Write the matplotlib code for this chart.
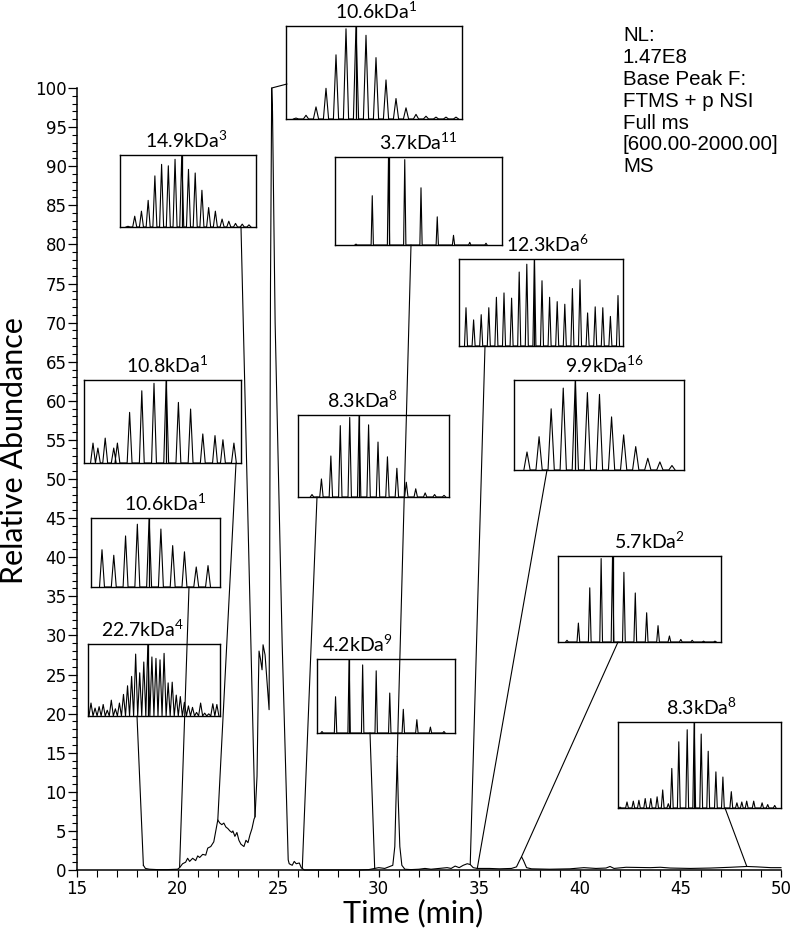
import matplotlib
matplotlib.use("Agg")
import matplotlib.pyplot as plt
from matplotlib.patches import ConnectionPatch
from matplotlib.ticker import MultipleLocator
import numpy as np

plt.rcParams['font.family'] = 'DejaVu Sans'
plt.rcParams['mathtext.fontset'] = 'custom'
plt.rcParams['mathtext.rm'] = 'Lato'
plt.rcParams['mathtext.default'] = 'rm'

# base peak chromatogram: time (min) vs relative abundance
times = [18.30, 18.40, 18.60, 19.00, 19.50, 20.00, 20.10, 20.25, 20.40, 20.50,
         20.60, 20.75, 20.90, 21.00, 21.10, 21.25, 21.40, 21.50, 21.65, 21.80,
         21.90, 22.00, 22.10, 22.20, 22.30, 22.40, 22.50, 22.60, 22.70, 22.75,
         22.85, 22.95, 23.05, 23.15, 23.30, 23.40, 23.50, 23.60, 23.70, 23.80,
         23.85, 23.95, 24.02, 24.05, 24.12, 24.20, 24.25, 24.35, 24.45, 24.55,
         24.58, 24.62, 24.68, 24.72, 24.85, 25.20, 25.50, 25.55, 25.70, 25.80,
         25.90, 26.05, 26.15, 26.30, 29.00, 29.50, 29.80, 30.00, 30.30, 30.50,
         30.70, 30.80, 30.85, 30.92, 30.97, 31.05, 31.15, 31.30, 31.60, 32.00,
         32.30, 32.60, 33.00, 33.40, 33.60, 33.80, 34.00, 34.20, 34.40, 34.55,
         34.70, 34.90, 35.50, 36.00, 36.60, 36.85, 37.00, 37.10, 37.20, 37.35,
         37.60, 38.50, 39.50, 40.20, 40.80, 41.30, 41.50, 41.70, 42.30, 43.50,
         44.00, 44.50, 45.50, 46.50, 47.50, 48.30, 48.80, 49.50, 50.00]
abund = [0.6, 0.2, 0.1, 0.05, 0.05, 0.1, 0.3, 0.8, 1.0, 1.5,
         1.1, 1.5, 1.2, 1.8, 1.6, 2.0, 1.9, 2.8, 3.0, 3.6,
         5.0, 6.4, 6.0, 5.8, 6.0, 5.5, 5.3, 5.0, 4.8, 5.0,
         4.3, 4.8, 3.8, 3.3, 3.0, 3.8, 3.5, 4.5, 5.3, 6.5,
         6.8, 12.0, 24.0, 28.0, 27.0, 25.6, 28.8, 27.5, 24.0, 20.5,
         40.0, 75.0, 100.0, 97.0, 70.0, 29.0, 1.3, 0.8, 0.6, 1.1,
         0.8, 0.9, 0.3, 0.0, 0.0, 0.05, 0.2, 0.3, 0.2, 0.4,
         0.6, 3.0, 8.0, 14.5, 9.0, 3.0, 0.6, 0.1, 0.05, 0.1,
         0.2, 0.1, 0.2, 0.3, 0.2, 0.5, 0.3, 0.6, 0.8, 0.7,
         0.3, 0.2, 0.2, 0.15, 0.2, 0.4, 1.2, 1.7, 1.2, 0.3,
         0.15, 0.1, 0.15, 0.3, 0.2, 0.25, 0.45, 0.2, 0.35, 0.3,
         0.35, 0.25, 0.2, 0.25, 0.35, 0.45, 0.4, 0.3, 0.3]

# deconvoluted protein masses shown in the spectrum insets
inset_labels = ["10.6kDa$^{1}$", "14.9kDa$^{3}$", "3.7kDa$^{11}$", "12.3kDa$^{6}$",
                "10.8kDa$^{1}$", "8.3kDa$^{8}$", "9.9kDa$^{16}$", "10.6kDa$^{1}$",
                "22.7kDa$^{4}$", "4.2kDa$^{9}$", "5.7kDa$^{2}$", "8.3kDa$^{8}$"]

# relative heights of the charge state peaks in each inset
h_a = [0.01, 0.04, 0.13, 0.33, 0.69, 0.97, 1.0, 0.9, 0.66, 0.42, 0.22, 0.12, 0.05, 0.03, 0.02, 0.02, 0.02]
h_b = [0.01, 0.15, 0.22, 0.37, 0.71, 0.87, 0.85, 0.94, 1.0, 0.8, 0.75, 0.51, 0.27, 0.22, 0.11, 0.08, 0.05, 0.04, 0.03]
h_c = [0.01, 0.56, 1.0, 0.97, 0.65, 0.32, 0.11, 0.03, 0.02]
h_d = [0.44, 0.3, 0.36, 0.44, 0.56, 0.61, 0.55, 0.85, 0.94, 1.0, 0.75, 0.56, 0.51, 0.48, 0.66, 0.76, 0.38, 0.45, 0.44, 0.34, 0.58]
h_e = [0.24, 0.18, 0.3, 0.18, 0.24, 0.61, 0.87, 0.96, 1.0, 0.73, 0.65, 0.35, 0.33, 0.28, 0.24]
h_f = [0.03, 0.22, 0.5, 0.87, 0.97, 1.0, 0.88, 0.67, 0.49, 0.35, 0.18, 0.1, 0.05, 0.03, 0.02]
h_g = [0.2, 0.37, 0.68, 0.91, 1.0, 0.86, 0.84, 0.59, 0.39, 0.26, 0.13, 0.09, 0.05]
h_h = [0.54, 0.46, 0.74, 0.91, 1.0, 0.84, 0.6, 0.51, 0.29, 0.31]
h_i = [0.18, 0.11, 0.13, 0.16, 0.08, 0.22, 0.1, 0.18, 0.3, 0.42, 0.55, 0.86, 0.6, 0.75, 1.0, 0.82,
       0.8, 0.78, 0.87, 0.46, 0.47, 0.29, 0.27, 0.19, 0.14, 0.12, 0.05, 0.18, 0.04, 0.03, 0.17, 0.16]
h_j = [0.02, 0.49, 1.0, 0.92, 0.84, 0.54, 0.32, 0.18, 0.08, 0.02]
h_k = [0.02, 0.22, 0.63, 0.97, 1.0, 0.81, 0.57, 0.34, 0.19, 0.07, 0.03, 0.02, 0.01, 0.01]
h_l = [0.01, 0.07, 0.08, 0.09, 0.11, 0.11, 0.13, 0.21, 0.05, 0.46, 0.77, 0.91, 1.0, 0.86, 0.66,
       0.42, 0.36, 0.19, 0.06, 0.07, 0.08, 0.08, 0.06, 0.04, 0.03]
inset_heights = [h_a, h_b, h_c, h_d, h_e, h_f, h_g, h_h, h_i, h_j, h_k, h_l]

# peak positions in units of the charge state spacing (None = evenly spaced)
pos_e = [0, 0.4, 1.0, 1.7, 2.0, 3.0, 4.0, 5.0, 6.0, 7.0, 8.0, 9.0, 10.0, 10.65, 11.55]
pos_l = [0, 1, 1.9, 2.7, 3.6, 4.4, 5.3, 6.1, 6.9, 7.4, 8.4, 9.6, 10.6, 11.6, 12.6,
         13.7, 14.7, 15.9, 16.7, 17.4, 18.1, 19.1, 20.3, 21.1, 22.1]
inset_positions = [None, None, None, None, pos_e, None, None, None, None, None, None, pos_l]

# index of the marked peak in each inset
marked_peak = [6, 8, 2, 9, 8, 5, 4, 4, 14, 2, 4, 12]

# chromatogram point each inset belongs to (time, abundance)
target_time = [24.68, 23.85, 30.92, 34.55, 22.0, 26.2, 34.9, 20.1, 18.3, 29.8, 37.1, 48.3]
target_abund = [100.0, 6.8, 14.5, 0.7, 6.4, 0.2, 0.2, 0.3, 0.6, 0.2, 1.7, 0.45]

info_lines = ["NL:", "1.47E8", "Base Peak F:", "FTMS + p NSI", "Full ms", "[600.00-2000.00]", "MS"]

# ---- layout (pixels of a 793x930 canvas) ----
W, H = 793.0, 930.0
# box (left, top, right, bottom), first peak x, peak spacing, half width, title x, anchor
layout = [
    ((286, 26, 462, 119), 296, 10.0, 0.26, 0.51, (287, 84)),
    ((120, 155, 256, 227), 128, 6.72, 0.3, 0.485, (241, 227)),
    ((335, 157, 502, 245), 356, 16.25, 0.07, 0.497, (411, 245)),
    ((459, 259, 623, 346), 466, 7.6, 0.2, 0.54, (485, 346)),
    ((84, 380, 241, 463), 93, 12.2, 0.2, 0.53, (236, 463)),
    ((298, 415, 449, 497), 312, 9.43, 0.18, 0.43, (317, 497)),
    ((514, 380, 684, 470), 527, 12.08, 0.26, 0.53, (547, 470)),
    ((91, 518, 220, 587), 102, 11.78, 0.21, 0.57, (189, 587)),
    ((88, 644, 220, 716), 91, 4.06, 0.5, 0.41, (137, 716)),
    ((317, 659, 455, 733), 322, 13.55, 0.09, 0.29, (370, 733)),
    ((558, 556, 721, 642), 567, 11.38, 0.12, 0.56, (618, 642)),
    ((618, 722, 781, 808), 620, 7.0, 0.2, 0.515, (725, 808)),
]


def fx(px):
    return px / W


def fy(py):
    return 1 - py / H


fig = plt.figure(figsize=(W / 100, H / 100), dpi=100)
fig.patch.set_facecolor('white')

ax = fig.add_axes([fx(77), fy(870), fx(781) - fx(77), fy(88) - fy(870)])
ax.plot(times, abund, color='black', lw=0.8, clip_on=False)
ax.set_xlim(15, 50)
ax.set_ylim(0, 100)
ax.spines['top'].set_visible(False)
ax.spines['right'].set_visible(False)
ax.spines['left'].set_linewidth(1.1)
ax.spines['bottom'].set_linewidth(1.1)
ax.xaxis.set_major_locator(MultipleLocator(5))
ax.xaxis.set_minor_locator(MultipleLocator(1))
ax.yaxis.set_major_locator(MultipleLocator(5))
ax.yaxis.set_minor_locator(MultipleLocator(1))
ax.tick_params(axis='y', which='major', length=6.5, width=0.9, labelsize=12, pad=1)
ax.tick_params(axis='y', which='minor', length=3.8, width=0.8)
ax.tick_params(axis='x', which='major', length=5, width=0.9, labelsize=12, pad=2)
ax.tick_params(axis='x', which='minor', length=5, width=0.8)

fig.text(fx(14), fy(451), "Relative Abundance", rotation=90, ha='center', va='center',
         fontsize=22, family='Lato')
fig.text(fx(413), fy(913), "Time (min)", ha='center', va='center', fontsize=22, family='Lato')

for i, line in enumerate(info_lines):
    fig.text(fx(623), fy(41 + 21.9 * i), line, ha='left', va='baseline',
             fontsize=14.8, family='Liberation Sans')

for k in range(len(inset_labels)):
    (l, t, r, b), p0, sp, hw, tx, anchor = layout[k]
    hts = inset_heights[k]
    pos = inset_positions[k]
    if pos is None:
        pos = list(range(len(hts)))
    axi = fig.add_axes([fx(l), fy(b), fx(r) - fx(l), fy(t) - fy(b)])
    axi.set_facecolor('white')
    xs, ys = [], []
    for p, h in zip(pos, hts):
        xs += [p - hw, p, p + hw]
        ys += [0, h, 0]
    axi.plot(xs, ys, color='black', lw=0.8)
    m = pos[marked_peak[k]]
    axi.plot([m, m], [0, 1], color='black', lw=0.9)
    axi.set_xlim((l - p0) / sp, (r - p0) / sp)
    axi.set_ylim(0, 1.0)
    axi.set_xticks([])
    axi.set_yticks([])
    for s in axi.spines.values():
        s.set_linewidth(1.0)
    axi.annotate(inset_labels[k], xy=(tx, 1), xycoords='axes fraction',
                 xytext=(0, 5.5), textcoords='offset points', ha='center', va='baseline',
                 fontsize=14, family='Lato')
    con = ConnectionPatch(xyA=(fx(anchor[0]), fy(anchor[1])), coordsA=fig.transFigure,
                          xyB=(target_time[k], target_abund[k]), coordsB=ax.transData,
                          color='black', lw=0.8)
    fig.add_artist(con)

fig.savefig("out.png", dpi=100, facecolor='white')
